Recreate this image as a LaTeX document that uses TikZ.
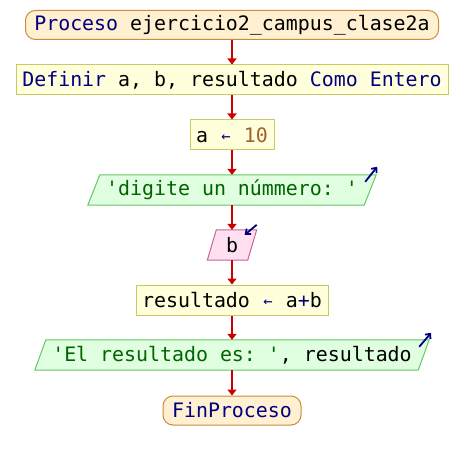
\documentclass[tikz,border=0pt]{standalone}
\usepackage{fontspec}
\setmonofont{DejaVu Sans Mono}
\usetikzlibrary{backgrounds,arrows.meta}
\definecolor{kw}{HTML}{000080}
\definecolor{numc}{HTML}{A0602A}
\definecolor{strc}{HTML}{006400}
\definecolor{termfill}{HTML}{FFF0D2}
\definecolor{termline}{HTML}{C88C3C}
\definecolor{procfill}{HTML}{FFFFDC}
\definecolor{procline}{HTML}{C8C864}
\definecolor{outfill}{HTML}{E0FFE0}
\definecolor{outline}{HTML}{64C864}
\definecolor{infill}{HTML}{FFE0F0}
\definecolor{inline}{HTML}{C86496}
\definecolor{flowred}{HTML}{CC0000}
\newcommand{\asg}{\makebox[12pt]{\color{kw}\fontsize{15.5}{15.5}\selectfont\raisebox{0.5pt}{←}}}
\begin{document}
\begin{tikzpicture}[x=1pt,y=-1pt,
  font=\ttfamily\fontsize{19.9}{22}\selectfont,
  termbox/.style={draw=termline, fill=termfill, rounded corners=10pt, minimum height=29pt, inner sep=0pt, line width=1pt},
  procbox/.style={draw=procline, fill=procfill, minimum height=30pt, inner sep=0pt, line width=1pt},
  iobox/.style={minimum height=30pt, inner sep=0pt},
  outshape/.style={draw=outline, fill=outfill, line width=1pt},
  inshape/.style={draw=inline, fill=infill, line width=1pt},
  flow/.style={draw=flowred, line width=2pt, -{Triangle[width=9pt,length=6pt]}},
  ioarrow/.style={draw=kw, line width=1.8pt, -{Straight Barb[length=4pt,width=7pt]}}
]
\useasboundingbox (0,0) rectangle (464,460);

\node[termbox, minimum width=413pt] (start) at (232,25) {{\color{kw}Proceso} ejercicio2\_campus\_clase2a};
\node[procbox, minimum width=432pt] (def) at (232,80) {{\color{kw}Definir} a, b, resultado {\color{kw}Como Entero}};
\node[procbox, minimum width=84pt] (a10) at (232,135) {a \asg{} {\color{numc}10}};
\node[iobox, minimum width=276pt] (o1) at (232,190) {\color{strc}'digite un númmero: '};
\node[iobox, minimum width=40pt] (inb) at (232,245) {b};
\node[procbox, minimum width=192pt] (res) at (232,300) {resultado \asg{} a{\color{kw}+}b};
\node[iobox, minimum width=383pt] (o2) at (232,355) {{\color{strc}'El resultado es: '}, resultado};
\node[termbox, minimum width=138pt] (fin) at (232,410.5) {\color{kw}FinProceso};

\begin{scope}[on background layer]
\filldraw[outshape] ([xshift=6pt]o1.north west) -- ([xshift=6pt]o1.north east) -- ([xshift=-6pt]o1.south east) -- ([xshift=-6pt]o1.south west) -- cycle;
\filldraw[inshape] ([xshift=4.5pt]inb.north west) -- ([xshift=4.5pt]inb.north east) -- ([xshift=-4.5pt]inb.south east) -- ([xshift=-4.5pt]inb.south west) -- cycle;
\filldraw[outshape] ([xshift=5.5pt]o2.north west) -- ([xshift=5.5pt]o2.north east) -- ([xshift=-5.5pt]o2.south east) -- ([xshift=-5.5pt]o2.south west) -- cycle;
\end{scope}

\coordinate (o1a) at ([shift={(-5,7)}]o1.north east);
\coordinate (o1b) at ([shift={(7,-8)}]o1.north east);
\coordinate (ina) at ([shift={(4.5,-5)}]inb.north east);
\coordinate (inb2) at ([shift={(-7.5,5)}]inb.north east);
\coordinate (o2a) at ([shift={(-4.5,7)}]o2.north east);
\coordinate (o2b) at ([shift={(7.5,-7)}]o2.north east);
\draw[ioarrow] (o1a) -- (o1b);
\draw[ioarrow] (ina) -- (inb2);
\draw[ioarrow] (o2a) -- (o2b);

\draw[flow] (start.south) -- (def.north);
\draw[flow] (def.south) -- (a10.north);
\draw[flow] (a10.south) -- (o1.north);
\draw[flow] (o1.south) -- (inb.north);
\draw[flow] (inb.south) -- (res.north);
\draw[flow] (res.south) -- (o2.north);
\draw[flow] (o2.south) -- (fin.north);
\end{tikzpicture}
\end{document}
